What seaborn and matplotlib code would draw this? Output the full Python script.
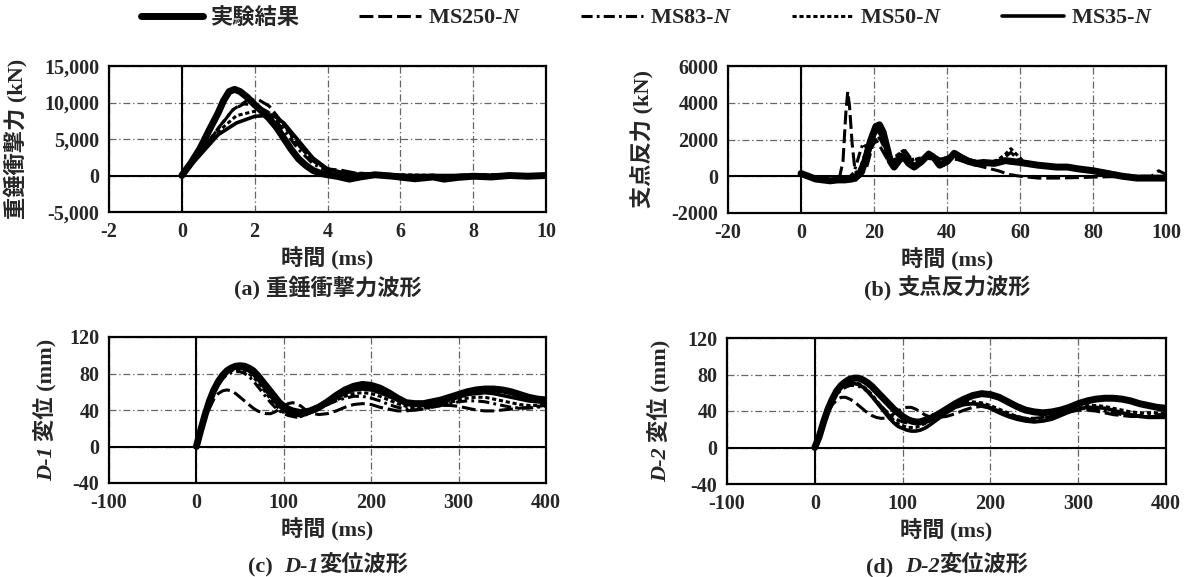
import matplotlib
matplotlib.use("Agg")
import matplotlib.pyplot as plt
from matplotlib.lines import Line2D
from matplotlib.ticker import FuncFormatter
from matplotlib.transforms import IdentityTransform
from matplotlib.font_manager import FontProperties
import seaborn as sns

# ---- (a) hammer impact force: time (ms) / force (kN)
a_exp_t = [0, 0.25, 0.5, 0.75, 1.0, 1.15, 1.3, 1.45, 1.6, 1.8, 2.0, 2.2, 2.4, 2.6, 2.8, 3.0, 3.2, 3.4,
           3.6, 3.8, 4.0, 4.3, 4.6, 4.9, 5.3, 5.8, 6.4, 6.9, 7.2, 7.6, 8.0, 8.5, 9.0, 9.5, 10.0]
a_exp_f = [0, 1700, 3700, 6200, 8600, 10300, 11500, 11800, 11500, 10700, 9700, 8800, 7800, 6600, 5100,
           3600, 2300, 1400, 700, 300, 100, -150, -500, -200, 100, -100, -450, -200, -500, -250,
           -100, -200, 0, -100, 0]
a_250_t = [0, 0.5, 1.0, 1.4, 1.8, 2.1, 2.4, 2.8, 3.2, 3.6, 4.0, 4.4, 4.8, 5.5, 6.5, 7.5, 8.5, 10]
a_250_f = [0, 3000, 6500, 9000, 10300, 10400, 9500, 7000, 4200, 2000, 900, 700, 300, 200, -100, 0, 100, 0]
a_83_t = [0, 0.5, 1.0, 1.4, 1.7, 2.0, 2.4, 2.8, 3.2, 3.6, 4.0, 4.5, 5, 6, 7, 8, 9, 10]
a_83_f = [0, 3200, 6400, 9000, 9800, 9700, 8600, 6200, 3600, 1600, 600, 400, 200, 0, -100, 100, 0, 0]
a_50_t = [0, 0.5, 1.0, 1.5, 2.0, 2.4, 2.8, 3.2, 3.6, 4.0, 4.5, 5, 6, 7, 8, 9, 10]
a_50_f = [0, 3000, 6000, 8200, 8800, 8600, 6800, 4200, 2000, 800, 300, 300, 100, 0, 0, 100, 0]
a_35_t = [0, 0.5, 1.0, 1.5, 2.0, 2.5, 2.8, 3.2, 3.6, 4.0, 4.5, 5, 6, 7, 8, 9, 10]
a_35_f = [0, 2800, 5600, 7200, 8100, 8300, 7200, 4800, 2400, 900, 300, 100, 0, 0, 0, 0, 0]

# ---- (b) support reaction: time (ms) / force (kN)
b_exp_t = [0, 2, 4, 6, 8, 10, 12, 14, 16, 17.5, 19, 20.5, 21.5, 22.5, 23.5, 24.5, 25.5, 27, 28, 29.5,
           31, 33, 35, 36.5, 38, 40, 42, 44, 46, 48, 50, 53, 56, 60, 65, 70, 73, 76, 80, 84,
           88, 92, 96, 100]
b_exp_f = [150, 0, -150, -200, -250, -200, -200, -150, 100, 800, 1900, 2700, 2800, 2400, 1600, 800,
           500, 900, 1100, 700, 500, 800, 1200, 1000, 600, 800, 1250, 1000, 800, 700, 750, 700,
           850, 750, 600, 500, 500, 400, 300, 150, 0, -100, -100, -100]
b_250_t = [0, 3, 6, 9, 10.5, 11.5, 12.3, 12.8, 13.3, 14, 14.8, 16, 18, 19.5, 20.5, 22, 24, 26, 27.5, 29,
           31, 34, 37, 40, 43, 46, 50, 54, 57, 60, 65, 70, 80, 90, 96, 98, 100]
b_250_f = [150, -100, -150, -200, -100, 800, 3500, 4600, 3800, 1800, 300, 0, 500, 1600, 2000, 1500,
           800, 900, 1400, 1100, 800, 1000, 900, 1000, 900, 700, 500, 300, 100, 0, -100, -100,
           -50, 0, 0, 300, 100]
b_83_t = [0, 4, 8, 11, 13, 14.5, 16, 17, 18.5, 20, 21.5, 23, 25, 27, 28.5, 30, 32, 35, 38, 41,
          44, 48, 52, 55, 57.5, 60, 65, 70, 75, 80, 85, 90, 95, 100]
b_83_f = [100, -150, -200, -200, -100, 200, 1200, 1800, 1400, 1800, 2100, 1500, 800, 1200, 1400, 1000,
          900, 1100, 900, 1100, 900, 700, 700, 900, 1300, 800, 600, 500, 450, 300, 150, 0, -50, -50]
b_50_t = [0, 5, 10, 14, 16, 18, 19.5, 21, 22.5, 24, 26, 28, 30, 33, 36, 39, 42, 45, 48, 51,
          54, 56, 57.5, 59, 61, 64, 70, 76, 82, 88, 94, 100]
b_50_f = [100, -150, -200, -200, 300, 1500, 2300, 2500, 2000, 1000, 1100, 1400, 900, 1000, 1200, 800,
          1200, 900, 800, 700, 900, 1200, 1500, 1200, 800, 700, 550, 450, 300, 100, -50, -50]
b_35_t = [0, 5, 10, 15, 17, 19, 20.5, 22, 23.5, 25, 27, 29, 31, 33, 35, 37, 39, 41, 43, 46,
          50, 55, 60, 65, 70, 75, 80, 85, 90, 95, 100]
b_35_f = [150, -150, -200, -200, 200, 1500, 2500, 2300, 1400, 600, 900, 1100, 600, 900, 1300, 900,
          600, 1000, 1200, 900, 700, 800, 700, 600, 500, 450, 300, 150, 0, -100, -100]

# ---- (c), (d) displacement: time (ms) / displacement (mm)
disp_t = list(range(0, 131, 5)) + list(range(140, 401, 10))
c_exp = [0, 18, 35, 50, 62, 71, 78, 83, 86, 88, 88.5, 88, 86, 83, 78, 72, 66, 60, 54, 48, 44, 41, 39, 38, 37, 38, 39,
         43, 49, 56, 62, 66, 68, 67, 64, 59, 53, 48, 47, 47, 49, 51, 54, 57, 60, 62, 63, 63, 62, 60, 57, 54, 52, 51]
c_250 = [0, 15, 30, 42, 52, 58, 61, 62, 61, 58, 54, 50, 46, 42, 39, 37, 36, 36, 38, 41, 44, 47, 48, 47, 44, 40, 37,
         35, 36, 39, 43, 46, 47, 46, 43, 41, 39, 39, 40, 42, 44, 45, 45, 44, 42, 40, 39, 39, 40, 41, 42, 43, 44, 45]
c_83 = [0, 17, 33, 47, 58, 67, 74, 79, 81, 82, 82, 80, 77, 72, 66, 60, 54, 48, 43, 39, 36, 34, 33, 33, 34, 36, 38,
        42, 46, 50, 53, 55, 55, 53, 50, 46, 43, 41, 40, 41, 43, 45, 47, 49, 50, 50, 49, 47, 45, 43, 42, 42, 43, 44]
c_50 = [0, 17, 34, 48, 60, 69, 76, 81, 83, 84, 84, 83, 80, 76, 71, 65, 58, 52, 46, 41, 37, 35, 33, 32, 33, 35, 37,
        41, 46, 51, 55, 58, 59, 58, 55, 51, 47, 44, 42, 42, 43, 45, 48, 51, 53, 54, 54, 52, 50, 48, 46, 45, 45, 46]
c_35 = [0, 18, 35, 49, 61, 70, 77, 82, 85, 86, 86, 85, 83, 79, 74, 68, 61, 55, 49, 44, 40, 37, 35, 34, 34, 35, 37,
        41, 47, 53, 58, 62, 63, 62, 59, 55, 51, 47, 45, 45, 46, 48, 51, 54, 57, 58, 59, 58, 56, 54, 52, 50, 49, 48]
d_exp = [0, 12, 28, 42, 53, 62, 68, 72, 75, 76, 76, 74, 71, 67, 62, 57, 52, 47, 42, 38, 34, 31, 29, 28, 28, 29, 31,
         36, 42, 48, 53, 57, 59, 58, 55, 50, 45, 41, 39, 38, 39, 41, 44, 48, 51, 53, 54, 54, 53, 51, 48, 46, 44, 43]
d_250 = [0, 12, 27, 39, 47, 52, 55, 55, 53, 50, 46, 42, 38, 35, 33, 32, 32, 34, 37, 40, 43, 44, 44, 42, 39, 36, 34,
         33, 34, 37, 41, 44, 45, 43, 40, 37, 34, 32, 32, 33, 35, 37, 39, 41, 41, 40, 38, 36, 35, 34, 34, 34, 34, 34]
d_83 = [0, 12, 27, 40, 50, 58, 63, 66, 68, 68, 67, 65, 61, 56, 51, 46, 41, 37, 33, 30, 28, 27, 27, 28, 30, 32, 34,
        38, 42, 46, 48, 48, 47, 44, 40, 36, 33, 31, 31, 32, 34, 37, 40, 42, 43, 42, 40, 38, 36, 35, 35, 35, 36, 36]
d_50 = [0, 12, 28, 41, 52, 60, 66, 69, 71, 71, 70, 67, 63, 58, 52, 46, 40, 35, 30, 26, 24, 22, 22, 22, 24, 26, 29,
        35, 41, 46, 49, 50, 49, 46, 42, 38, 34, 32, 31, 32, 34, 37, 41, 44, 46, 46, 45, 43, 41, 39, 38, 38, 38, 38]
d_35 = [0, 12, 28, 41, 52, 60, 66, 69, 70, 70, 69, 66, 62, 56, 50, 44, 38, 32, 27, 23, 21, 19, 18, 18, 19, 21, 24,
        31, 38, 44, 47, 48, 47, 43, 38, 34, 31, 29, 28, 29, 31, 35, 39, 42, 44, 44, 43, 41, 38, 36, 34, 33, 33, 33]

series_names = ["実験結果", "MS250-$\\mathit{N}$", "MS83-$\\mathit{N}$", "MS50-$\\mathit{N}$", "MS35-$\\mathit{N}$"]
styles = [
    dict(linewidth=5.0, linestyle="-"),
    dict(linewidth=2.2, linestyle=(0, (10, 3.5))),
    dict(linewidth=2.2, linestyle=(0, (8, 3, 2, 3))),
    dict(linewidth=2.2, linestyle=(0, (3, 2))),
    dict(linewidth=2.6, linestyle="-"),
]

sns.set_theme(style="white")
plt.rcParams["font.family"] = ["Liberation Serif", "Noto Sans CJK JP"]
plt.rcParams["font.weight"] = "bold"
plt.rcParams["axes.unicode_minus"] = False
plt.rcParams["mathtext.fontset"] = "custom"
plt.rcParams["mathtext.rm"] = "Liberation Serif:bold"
plt.rcParams["mathtext.it"] = "Liberation Serif:italic:bold"
plt.rcParams["mathtext.bf"] = "Liberation Serif:bold"
plt.rcParams["lines.scale_dashes"] = False

W, H = 1190, 577
fig = plt.figure(figsize=(W / 100, H / 100), dpi=100)


def rect(x0, y0, x1, y1):
    return [x0 / W, 1 - y1 / H, (x1 - x0) / W, (y1 - y0) / H]


def setup(ax, xlim, xticks, ylim, yticks):
    ax.set_xlim(xlim)
    ax.set_ylim(ylim)
    ax.set_xticks(xticks)
    ax.set_yticks(yticks)
    ax.grid(True, color="0.4", linewidth=0.9, linestyle=(0, (5, 2, 1, 2)))
    ax.set_axisbelow(True)
    ax.axhline(0, color="black", linewidth=1.5, zorder=1.5)
    ax.axvline(0, color="black", linewidth=1.5, zorder=1.5)
    for s in ax.spines.values():
        s.set_color("black")
        s.set_linewidth(1.6)
    ax.tick_params(length=0, pad=7, labelsize=14.5)
    ax.set_xlabel("時間 (ms)", fontsize=16, fontweight="bold", labelpad=4)


def draw(ax, curves):
    for (t, v), st in zip(curves, styles):
        sns.lineplot(x=t, y=v, ax=ax, color="black", sort=False, estimator=None, legend=False, **st)


ax_a = fig.add_axes(rect(109, 66, 546, 212))
ax_b = fig.add_axes(rect(728, 66, 1166, 213))
ax_c = fig.add_axes(rect(109, 337, 546, 483))
ax_d = fig.add_axes(rect(727, 338, 1166, 484))

draw(ax_a, [(a_exp_t, a_exp_f), (a_250_t, a_250_f), (a_83_t, a_83_f), (a_50_t, a_50_f), (a_35_t, a_35_f)])
draw(ax_b, [(b_exp_t, b_exp_f), (b_250_t, b_250_f), (b_83_t, b_83_f), (b_50_t, b_50_f), (b_35_t, b_35_f)])
draw(ax_c, [(disp_t, c_exp), (disp_t, c_250), (disp_t, c_83), (disp_t, c_50), (disp_t, c_35)])
draw(ax_d, [(disp_t, d_exp), (disp_t, d_250), (disp_t, d_83), (disp_t, d_50), (disp_t, d_35)])

setup(ax_a, (-2, 10), range(-2, 11, 2), (-5000, 15000), range(-5000, 15001, 5000))
ax_a.yaxis.set_major_formatter(FuncFormatter(lambda v, p: f"{v:,.0f}"))
setup(ax_b, (-20, 100), range(-20, 101, 20), (-2000, 6000), range(-2000, 6001, 2000))
setup(ax_c, (-100, 400), range(-100, 401, 100), (-40, 120), range(-40, 121, 40))
setup(ax_d, (-100, 400), range(-100, 401, 100), (-40, 120), range(-40, 121, 40))

ax_a.set_ylabel("重錘衝撃力 (kN)", fontsize=16, fontweight="bold", labelpad=12)
ax_b.set_ylabel("支点反力 (kN)", fontsize=16, fontweight="bold", labelpad=12)

serif = dict(family="Liberation Serif")
ital = dict(family="Liberation Serif", style="italic")
cjk = dict(family=["Liberation Serif", "Noto Sans CJK JP"])


def rich(x, y, pieces, size=16, rotation=0):
    # pieces: (text, font kwargs, gap after in px); x, y in pixels from bottom-left
    fig.canvas.draw()
    r = fig.canvas.get_renderer()
    arts, lens = [], []
    for s, kw, gap in pieces:
        t = fig.text(0, 0, s, fontsize=size, fontweight="bold", rotation=rotation,
                     rotation_mode="anchor", ha="left", va="baseline",
                     transform=IdentityTransform(), **kw)
        bb = t.get_window_extent(r)
        arts.append(t)
        lens.append((bb.height if rotation else bb.width) + gap)
    pos = -sum(lens) / 2
    for t, L in zip(arts, lens):
        t.set_position((x, y + pos) if rotation else (x + pos, y))
        pos += L


rich(52, H - 410, [("D-1", ital, 5), ("変位 (mm)", cjk, 0)], rotation=90)
rich(666, H - 411, [("D-2", ital, 5), ("変位 (mm)", cjk, 0)], rotation=90)

rich(328, H - 295, [("(a)", serif, 6), ("重錘衝撃力波形", cjk, 0)])
rich(947, H - 295, [("(b)", serif, 6), ("支点反力波形", cjk, 0)])
rich(328, 5, [("(c)", serif, 12), ("D-1", ital, 0), ("変位波形", cjk, 0)])
rich(947, 5, [("(d)", serif, 12), ("D-2", ital, 0), ("変位波形", cjk, 0)])

handles = [Line2D([], [], color="black", **st) for st in styles]
fig.legend(handles, series_names, loc="center", bbox_to_anchor=(647 / W, 1 - 18 / H), ncol=5,
           frameon=False, handlelength=2.8, handletextpad=0.3, columnspacing=2.7,
           prop=FontProperties(family=["Liberation Serif", "Noto Sans CJK JP"], weight="bold", size=16))

fig.savefig("out.png", dpi=100)
